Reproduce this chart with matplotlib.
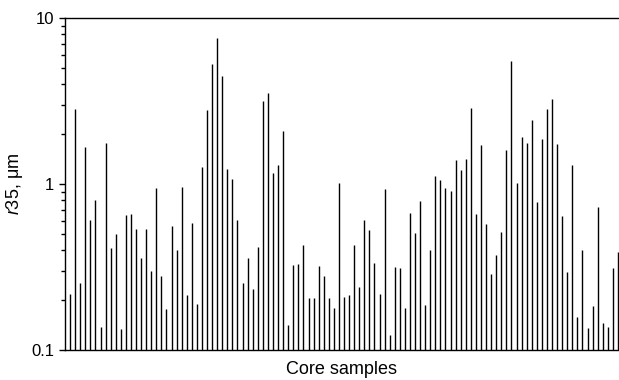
import numpy as np
import matplotlib
matplotlib.use("Agg")
import matplotlib.pyplot as plt
from matplotlib.ticker import LogLocator, NullFormatter, FixedLocator, FixedFormatter

plt.rcParams['font.family'] = ['Liberation Sans', 'DejaVu Sans']
plt.rcParams['mathtext.fontset'] = 'custom'
plt.rcParams['mathtext.rm'] = 'Liberation Sans'
plt.rcParams['mathtext.it'] = 'Liberation Sans:italic'

# r35 pore throat radius per core sample, um
r35 = [0.217, 2.82, 0.252, 1.68, 0.607, 0.798, 0.137, 1.76, 0.41, 0.498,
       0.134, 0.65, 0.66, 0.533, 0.358, 0.533, 0.298, 0.94, 0.279, 0.177,
       0.558, 0.40, 0.96, 0.214, 0.58, 0.189, 1.27, 2.79, 5.26, 7.58,
       4.47, 1.23, 1.07, 0.61, 0.252, 0.357, 0.232, 0.417, 3.18, 3.53,
       1.16, 1.31, 2.09, 0.141, 0.324, 0.33, 0.427, 0.206, 0.206, 0.322,
       0.278, 0.206, 0.178, 1.01, 0.208, 0.213, 0.43, 0.239, 0.607, 0.526,
       0.333, 0.217, 0.93, 0.123, 0.316, 0.312, 0.18, 0.67, 0.507, 0.787,
       0.186, 0.402, 1.12, 1.06, 0.94, 0.91, 1.40, 1.21, 1.41, 2.87,
       0.66, 1.72, 0.572, 0.286, 0.373, 0.514, 1.60, 5.48, 1.01, 1.93,
       1.76, 2.43, 0.78, 1.87, 2.83, 3.26, 1.74, 0.64, 0.295, 1.31,
       0.158, 0.40, 0.135, 0.185, 0.723, 0.146, 0.138, 0.313, 0.391]
samples = np.arange(1, len(r35) + 1)

yticks = [0.1, 1, 10]
ytick_labels = ["0.1", "1", "10"]

W, H = 619, 380
fig = plt.figure(figsize=(W / 100, H / 100), dpi=100)
ax = fig.add_axes([65 / W, 30 / H, (W - 65) / W, (350 - 18) / H])

ax.vlines(samples, 0.1, r35, colors="black", linewidth=1.0)

ax.set_yscale("log")
ax.set_ylim(0.1, 10)
ax.set_xlim(0, 109.2)

ax.yaxis.set_major_locator(FixedLocator(yticks))
ax.yaxis.set_major_formatter(FixedFormatter(ytick_labels))
ax.yaxis.set_minor_locator(LogLocator(base=10, subs=np.arange(2, 10)))
ax.yaxis.set_minor_formatter(NullFormatter())
ax.tick_params(axis="y", which="major", direction="out", length=4, width=1,
               labelsize=12, pad=4)
ax.tick_params(axis="y", which="minor", direction="out", length=3, width=1)
ax.set_xticks([])

for side in ["left", "bottom", "top"]:
    ax.spines[side].set_linewidth(1.0)
ax.spines["right"].set_visible(False)

ax.set_ylabel(r"$\it{r}$35, μm", fontsize=13)
ax.yaxis.set_label_coords(-40 / (W - 65), 0.5)
ax.set_xlabel("Core samples", fontsize=13, labelpad=8)

fig.savefig("out.png", dpi=100)
